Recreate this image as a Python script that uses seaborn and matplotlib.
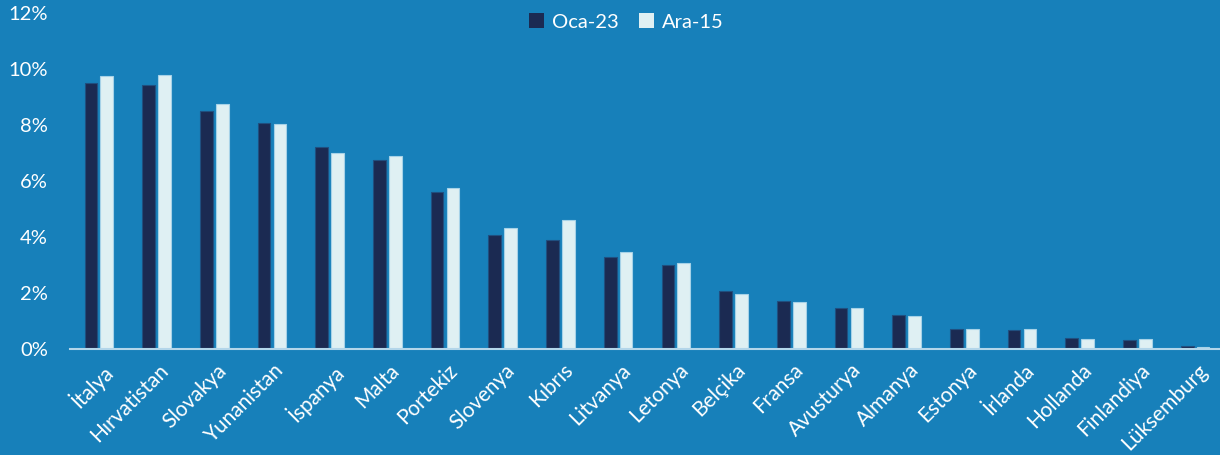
import matplotlib
matplotlib.use("Agg")
import matplotlib.pyplot as plt
import matplotlib.transforms as mtransforms
import seaborn as sns
import pandas as pd
from matplotlib.ticker import FuncFormatter
from matplotlib.patches import Patch

countries = ["İtalya", "Hırvatistan", "Slovakya", "Yunanistan", "İspanya", "Malta",
             "Portekiz", "Slovenya", "Kıbrıs", "Litvanya", "Letonya", "Belçika",
             "Fransa", "Avusturya", "Almanya", "Estonya", "İrlanda", "Hollanda",
             "Finlandiya", "Lüksemburg"]
oca23 = [9.51, 9.44, 8.49, 8.07, 7.21, 6.75, 5.60, 4.07, 3.89, 3.29, 2.99, 2.07,
         1.71, 1.45, 1.21, 0.71, 0.68, 0.38, 0.32, 0.10]
ara15 = [9.74, 9.77, 8.74, 8.05, 7.00, 6.89, 5.75, 4.31, 4.60, 3.45, 3.07, 1.96,
         1.67, 1.45, 1.18, 0.71, 0.70, 0.36, 0.35, 0.07]
series = ["Oca-23", "Ara-15"]
yticks = [0, 2, 4, 6, 8, 10, 12]

df = pd.DataFrame({
    "country": countries * 2,
    "value": oca23 + ara15,
    "series": [series[0]] * len(countries) + [series[1]] * len(countries),
})

BG = "#1780BA"
DARK = "#1B2A52"
LIGHT = "#DFF0F3"

sns.set_theme(style="white")
plt.rcParams["font.family"] = ["Lato", "DejaVu Sans"]

fig = plt.figure(figsize=(12.2, 4.55), dpi=100)
fig.patch.set_facecolor(BG)
ax = fig.add_axes([70 / 1220, 1 - 349 / 455, 1154 / 1220, (349 - 13) / 455])
ax.set_facecolor(BG)

sns.barplot(data=df, x="country", y="value", hue="series", order=countries,
            hue_order=series, palette=[DARK, LIGHT], width=0.55, gap=0.2,
            ax=ax, legend=False, saturation=1)

for p in ax.patches:
    fc = p.get_facecolor()
    if abs(fc[0] - 0x1B / 255) < 0.02:
        p.set_edgecolor("#1f4f80")
    else:
        p.set_edgecolor("#a6d2e8")
    p.set_linewidth(0.8)

ax.set_xlim(-0.5, len(countries) - 0.5)
ax.set_ylim(0, 12)
ax.set_yticks(yticks)
ax.yaxis.set_major_formatter(FuncFormatter(lambda v, _: f"{v:.0f}%"))
ax.set_xlabel("")
ax.set_ylabel("")
for s in ["top", "right", "left"]:
    ax.spines[s].set_visible(False)
ax.spines["bottom"].set_color("#b3d6ea")
ax.spines["bottom"].set_linewidth(1.5)
ax.tick_params(axis="y", length=0, pad=16, labelsize=14.5, labelcolor="white")
ax.tick_params(axis="x", length=0, pad=8, labelsize=15, labelcolor="white")
shift = mtransforms.ScaledTranslation(2 / 100, 0, fig.dpi_scale_trans)
for lbl in ax.get_xticklabels():
    lbl.set_rotation(45)
    lbl.set_ha("right")
    lbl.set_va("top")
    lbl.set_rotation_mode("anchor")
    lbl.set_transform(lbl.get_transform() + shift)

handles = [Patch(facecolor=DARK, edgecolor="none"), Patch(facecolor=LIGHT, edgecolor="none")]
leg = fig.legend(handles, series, loc="center", bbox_to_anchor=(626 / 1220, 1 - 22 / 455),
                 ncol=2, frameon=False, fontsize=14.5, handlelength=0.75, handleheight=0.75,
                 handletextpad=0.4, columnspacing=1.0, labelcolor="white")

fig.savefig("out.png", dpi=100, facecolor=BG)
